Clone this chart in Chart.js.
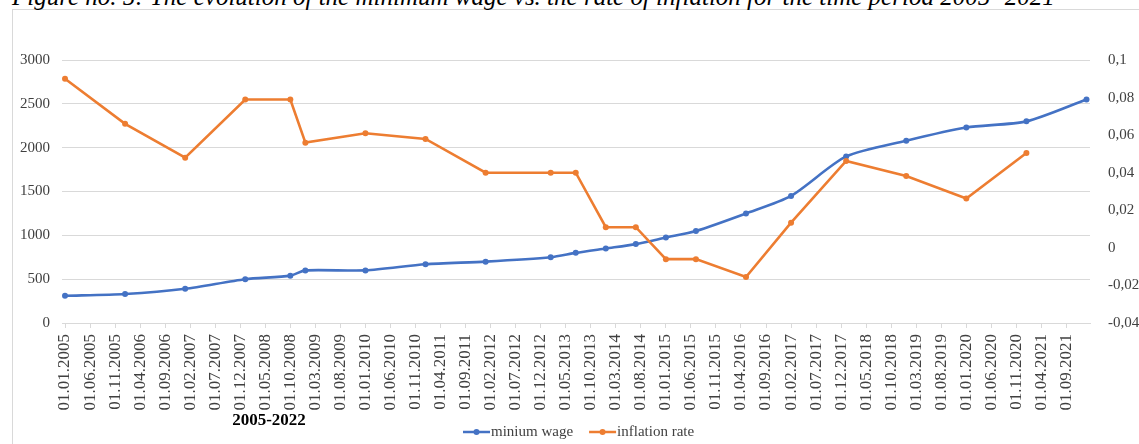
<!DOCTYPE html>
<html>
<head>
<meta charset="utf-8">
<script src="https://cdn.jsdelivr.net/npm/chart.js@4.4.1/dist/chart.umd.min.js"></script>
<style>
  html, body { margin: 0; padding: 0; background: #fff; overflow: hidden; width: 1139px; height: 444px; }
  #frame { position: absolute; left: 12px; top: 9px; width: 1200px; height: 500px; border: 1px solid #d9d9d9; box-sizing: border-box; }
  #caption { position: absolute; left: 12px; top: -16px; font: italic 25px "Liberation Serif"; line-height: 1; white-space: nowrap; color: #000; }
  #wrap { position: absolute; left: 0; top: 0; width: 1139px; height: 444px; }
</style>
</head>
<body>
<div id="frame"></div>
<div id="caption">Figure no. 5: The evolution of the minimum wage vs. the rate of inflation for the time period 2005- 2021</div>
<div id="wrap"><canvas id="c" width="1139" height="444"></canvas></div>
<script>
// Dates on which the minimum wage changed (year-month)
const changeDates = ['2005-01','2006-01','2007-01','2008-01','2008-10','2009-01','2010-01','2011-01',
  '2012-01','2013-02','2013-07','2014-01','2014-07','2015-01','2015-07','2016-05','2017-02','2018-01',
  '2019-01','2020-01','2021-01','2022-01'];

// Gross minimum wage (lei)
const minimumWage = [310, 330, 390, 500, 540, 600, 600, 670, 700, 750, 800, 850, 900, 975, 1050, 1250,
  1450, 1900, 2080, 2230, 2300, 2550];

// Annual inflation rate at the same dates (no value for 2022)
const inflationRate = [0.090, 0.066, 0.048, 0.079, 0.079, 0.056, 0.061, 0.058, 0.040, 0.040, 0.040,
  0.011, 0.011, -0.006, -0.006, -0.0155, 0.0134, 0.0463, 0.0383, 0.0263, 0.0505];

// Axis labels every five months
const tickLabels = ['01.01.2005','01.06.2005','01.11.2005','01.04.2006','01.09.2006','01.02.2007',
  '01.07.2007','01.12.2007','01.05.2008','01.10.2008','01.03.2009','01.08.2009','01.01.2010',
  '01.06.2010','01.11.2010','01.04.2011','01.09.2011','01.02.2012','01.07.2012','01.12.2012',
  '01.05.2013','01.10.2013','01.03.2014','01.08.2014','01.01.2015','01.06.2015','01.11.2015',
  '01.04.2016','01.09.2016','01.02.2017','01.07.2017','01.12.2017','01.05.2018','01.10.2018',
  '01.03.2019','01.08.2019','01.01.2020','01.06.2020','01.11.2020','01.04.2021','01.09.2021'];

const seriesNames = ['minium wage', 'inflation rate'];
const axisTitle = '2005-2022';

// Months elapsed since January 2005
function monthOf(ym) {
  const [y, m] = ym.split('-').map(Number);
  return (y - 2005) * 12 + (m - 1);
}
function monthOfLabel(lbl) {
  const [, m, y] = lbl.split('.').map(Number);
  return (y - 2005) * 12 + (m - 1);
}
const labelByMonth = {};
tickLabels.forEach(l => { labelByMonth[monthOfLabel(l)] = l; });

const wagePoints = minimumWage.map((v, i) => ({ x: monthOf(changeDates[i]), y: v }));
const inflationPoints = inflationRate.map((v, i) => ({ x: monthOf(changeDates[i]), y: v }));

const BLUE = '#4472C4';
const ORANGE = '#ED7D31';
const TEXT = '#404040';
const GRID = '#d9d9d9';
const SERIF = '"Liberation Serif", "Times New Roman", serif';

// Axis caption under the dates and the series key at the bottom
const overlay = {
  id: 'overlay',
  afterDraw(chart) {
    const ctx = chart.ctx;
    ctx.save();
    ctx.fillStyle = '#000';
    ctx.font = 'bold 17px ' + SERIF;
    ctx.textAlign = 'center';
    ctx.textBaseline = 'middle';
    ctx.fillText(axisTitle, 269, 421);

    ctx.font = '15px ' + SERIF;
    ctx.textAlign = 'left';
    let x = 463;
    const y = 432;
    chart.data.datasets.forEach(ds => {
      ctx.strokeStyle = ds.borderColor;
      ctx.lineWidth = 2.5;
      ctx.beginPath();
      ctx.moveTo(x, y);
      ctx.lineTo(x + 27, y);
      ctx.stroke();
      ctx.fillStyle = ds.borderColor;
      ctx.beginPath();
      ctx.arc(x + 13.5, y, 3, 0, Math.PI * 2);
      ctx.fill();
      x += 28;
      ctx.fillStyle = TEXT;
      ctx.fillText(ds.label, x, y);
      x += ctx.measureText(ds.label).width + 16;
    });
    ctx.restore();
  }
};

new Chart(document.getElementById('c'), {
  type: 'line',
  data: {
    datasets: [
      {
        label: seriesNames[0], data: wagePoints, yAxisID: 'y',
        borderColor: BLUE, backgroundColor: BLUE, borderWidth: 2.6,
        pointRadius: 3, pointBackgroundColor: BLUE, pointBorderWidth: 0,
        tension: 0.25, order: 1
      },
      {
        label: seriesNames[1], data: inflationPoints, yAxisID: 'y1',
        borderColor: ORANGE, backgroundColor: ORANGE, borderWidth: 2.6,
        pointRadius: 3, pointBackgroundColor: ORANGE, pointBorderWidth: 0,
        tension: 0, order: 0
      }
    ]
  },
  options: {
    responsive: false,
    animation: false,
    layout: { padding: { top: 60, left: 0, right: 0, bottom: 0 } },
    plugins: { legend: { display: false }, title: { display: false }, tooltip: { enabled: false } },
    scales: {
      x: {
        type: 'linear', min: -0.6, max: 204.7,
        afterBuildTicks: s => { s.ticks = tickLabels.map(l => ({ value: monthOfLabel(l) })); },
        afterFit: s => { s.height = 444 - 323; },
        ticks: {
          autoSkip: false, minRotation: 90, maxRotation: 90, padding: 6,
          color: TEXT, font: { family: SERIF, size: 17 },
          callback: v => labelByMonth[v]
        },
        grid: { drawOnChartArea: false, drawTicks: true, tickLength: 5, color: GRID },
        border: { color: GRID }
      },
      y: {
        position: 'left', min: 0, max: 3000,
        afterFit: s => { s.width = 62; },
        ticks: {
          stepSize: 500, padding: 12, color: TEXT, font: { family: SERIF, size: 15 },
          callback: v => String(v)
        },
        grid: { color: GRID, drawTicks: false },
        border: { display: false }
      },
      y1: {
        position: 'right', min: -0.04, max: 0.1,
        afterFit: s => { s.width = 1139 - 1090; },
        ticks: {
          stepSize: 0.02, padding: 10, color: TEXT, font: { family: SERIF, size: 15 },
          callback: v => String(Math.round(v * 100) / 100).replace('.', ',')
        },
        grid: { display: false },
        border: { display: false }
      }
    }
  },
  plugins: [overlay]
});
</script>
</body>
</html>
